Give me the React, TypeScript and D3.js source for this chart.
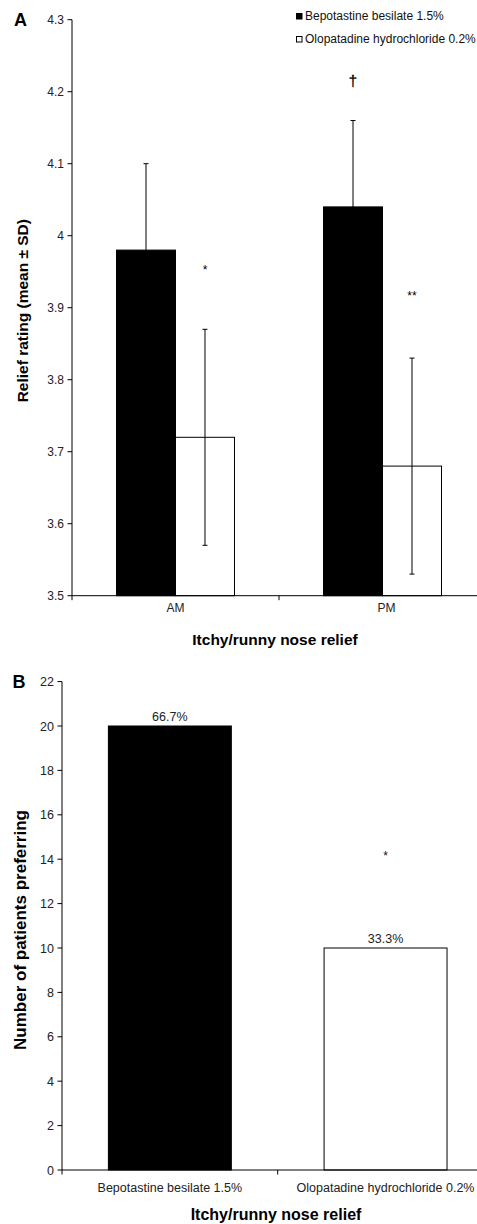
import * as d3 from "d3"

// Panel A: relief rating by time of day
const periods = ["AM", "PM"]
const treatments = ["Bepotastine besilate 1.5%", "Olopatadine hydrochloride 0.2%"]
const reliefMeans = [
  [3.98, 3.72], // AM
  [4.04, 3.68], // PM
]
const reliefSD = [
  [0.12, 0.15],
  [0.12, 0.15],
]
const reliefTicks = [3.5, 3.6, 3.7, 3.8, 3.9, 4.0, 4.1, 4.2, 4.3]
const markersA = [
  { period: "AM", series: 1, value: 3.957, text: "*" },
  { period: "PM", series: 0, value: 4.215, text: "†" },
  { period: "PM", series: 1, value: 3.92, text: "**" },
]

// Panel B: patient preference
const preferCounts = [20, 10]
const preferPct = ["66.7%", "33.3%"]
const preferTicks = [0, 2, 4, 6, 8, 10, 12, 14, 16, 18, 20, 22]
const markersB = [{ series: 1, value: 14.3, text: "*" }]

const fills = ["#000", "#fff"]
const FONT = "'Liberation Sans', Arial, sans-serif"

export default function App() {
  // ---- panel A scales
  const yA = d3.scaleLinear().domain([3.5, 4.3]).range([595.7, 19.7])
  const xA = d3.scaleBand().domain(periods).range([72, 486]).paddingInner(0).paddingOuter(0)
  const groupW = xA.bandwidth() * 0.57
  const inner = d3.scaleBand().domain(["0", "1"]).range([0, groupW])
  const barX = (p: string, s: number) =>
    (xA(p) || 0) + (xA.bandwidth() - groupW) / 2 + (inner(String(s)) || 0)

  // ---- panel B scales
  const yB = d3.scaleLinear().domain([0, 22]).range([1170, 681.6])
  const xB = d3.scaleBand().domain(treatments).range([62, 493.4]).paddingInner(0).paddingOuter(0)
  const barWB = xB.bandwidth() * 0.57
  const barXB = (i: number) => (xB(treatments[i]) || 0) + (xB.bandwidth() - barWB) / 2

  const fmtA = (v: number) => String(+v.toFixed(1))

  return (
    <svg
      width={477}
      height={1224}
      style={{ position: "absolute", left: 0, top: 0, background: "#fff", fontFamily: FONT }}
    >
      {/* ================= Panel A ================= */}
      <text x={14} y={25.7} fontSize={18} fontWeight="bold">A</text>

      {/* bars */}
      {periods.map((p, pi) =>
        reliefMeans[pi].map((v, s) => (
          <rect
            key={p + s}
            x={barX(p, s)}
            y={yA(v)}
            width={inner.bandwidth()}
            height={yA(3.5) - yA(v)}
            fill={fills[s]}
            stroke="#000"
            strokeWidth={1}
          />
        ))
      )}

      {/* error bars */}
      {periods.map((p, pi) =>
        reliefMeans[pi].map((v, s) => {
          const cx = barX(p, s) + inner.bandwidth() / 2
          const hi = yA(v + reliefSD[pi][s])
          const lo = yA(v - reliefSD[pi][s])
          return (
            <g key={"e" + p + s} stroke="#000" strokeWidth={1}>
              <line x1={cx} x2={cx} y1={hi} y2={lo} />
              <line x1={cx - 2.5} x2={cx + 2.5} y1={hi} y2={hi} />
              <line x1={cx - 2.5} x2={cx + 2.5} y1={lo} y2={lo} />
            </g>
          )
        })
      )}

      {/* significance markers */}
      {markersA.map((m, i) => (
        <text
          key={"m" + i}
          x={barX(m.period, m.series) + inner.bandwidth() / 2}
          y={yA(m.value) + (m.text === "†" ? 5 : 7)}
          textAnchor="middle"
          fontSize={m.text === "†" ? 15 : 12}
          fill="#000"
          stroke={m.text === "†" ? "#000" : "none"}
          strokeWidth={0.3}
        >
          {m.text}
        </text>
      ))}

      {/* y axis */}
      <line x1={72} x2={72} y1={yA(4.3)} y2={yA(3.5)} stroke="#000" />
      {reliefTicks.map((t) => (
        <g key={"ya" + t}>
          <line x1={67.5} x2={72} y1={yA(t)} y2={yA(t)} stroke="#000" />
          <text x={64} y={yA(t) + 4} textAnchor="end" fontSize={12} fill="#222">
            {fmtA(t)}
          </text>
        </g>
      ))}

      {/* x axis */}
      <line x1={72} x2={486} y1={yA(3.5)} y2={yA(3.5)} stroke="#000" />
      {[72, (xA("PM") || 0), 486].map((x, i) => (
        <line key={"xa" + i} x1={x} x2={x} y1={yA(3.5)} y2={yA(3.5) + 4.5} stroke="#000" />
      ))}
      {periods.map((p) => (
        <text
          key={"xl" + p}
          x={(xA(p) || 0) + xA.bandwidth() / 2 + (p === "PM" ? 4 : 0)}
          y={612}
          textAnchor="middle"
          fontSize={12}
          fill="#222"
        >
          {p}
        </text>
      ))}
      <text x={275} y={645} textAnchor="middle" fontSize={15.5} fontWeight="bold">
        Itchy/runny nose relief
      </text>
      <text
        transform={`translate(27.5,${(yA(4.3) + yA(3.5)) / 2 + 3}) rotate(-90)`}
        textAnchor="middle"
        fontSize={15.5}
        fontWeight="bold"
      >
        Relief rating (mean ± SD)
      </text>

      {/* legend */}
      {treatments.map((t, i) => (
        <g key={"lg" + t} transform={`translate(296,${13 + i * 23})`}>
          <rect x={0.5} y={0.5} width={5.5} height={5.5} fill={fills[i]} stroke="#000" strokeWidth={1} />
          <text x={9} y={7} fontSize={12} fill="#111">{t}</text>
        </g>
      ))}

      {/* ================= Panel B ================= */}
      <text x={12.5} y={688} fontSize={18} fontWeight="bold">B</text>

      {preferCounts.map((v, i) => (
        <g key={"b" + i}>
          <rect
            x={barXB(i)}
            y={yB(v)}
            width={barWB}
            height={yB(0) - yB(v)}
            fill={fills[i]}
            stroke="#000"
            strokeWidth={1}
          />
          <text
            x={barXB(i) + barWB / 2}
            y={yB(v) - 5}
            textAnchor="middle"
            fontSize={12.5}
            fill="#222"
          >
            {preferPct[i]}
          </text>
        </g>
      ))}

      {markersB.map((m, i) => (
        <text
          key={"mb" + i}
          x={barXB(m.series) + barWB / 2}
          y={yB(m.value) + 7}
          textAnchor="middle"
          fontSize={12}
          fill="#111"
        >
          {m.text}
        </text>
      ))}

      {/* y axis */}
      <line x1={62} x2={62} y1={yB(22)} y2={yB(0)} stroke="#000" />
      {preferTicks.map((t) => (
        <g key={"yb" + t}>
          <line x1={57.5} x2={62} y1={yB(t)} y2={yB(t)} stroke="#000" />
          <text x={54} y={yB(t) + 4.5} textAnchor="end" fontSize={12.5} fill="#222">
            {t}
          </text>
        </g>
      ))}

      {/* x axis */}
      <line x1={62} x2={493.4} y1={yB(0)} y2={yB(0)} stroke="#000" />
      {[62, xB(treatments[1]) || 0, 493.4].map((x, i) => (
        <line key={"xb" + i} x1={x} x2={x} y1={yB(0)} y2={yB(0) + 4.5} stroke="#000" />
      ))}
      {treatments.map((t) => (
        <text
          key={"xbl" + t}
          x={(xB(t) || 0) + xB.bandwidth() / 2}
          y={1192}
          textAnchor="middle"
          fontSize={12.5}
          fill="#222"
        >
          {t}
        </text>
      ))}
      <text x={276} y={1219.5} textAnchor="middle" fontSize={16} fontWeight="bold">
        Itchy/runny nose relief
      </text>
      <text
        transform={`translate(26,${930}) rotate(-90)`}
        textAnchor="middle"
        fontSize={17}
        fontWeight="bold"
      >
        Number of patients preferring
      </text>
    </svg>
  )
}
